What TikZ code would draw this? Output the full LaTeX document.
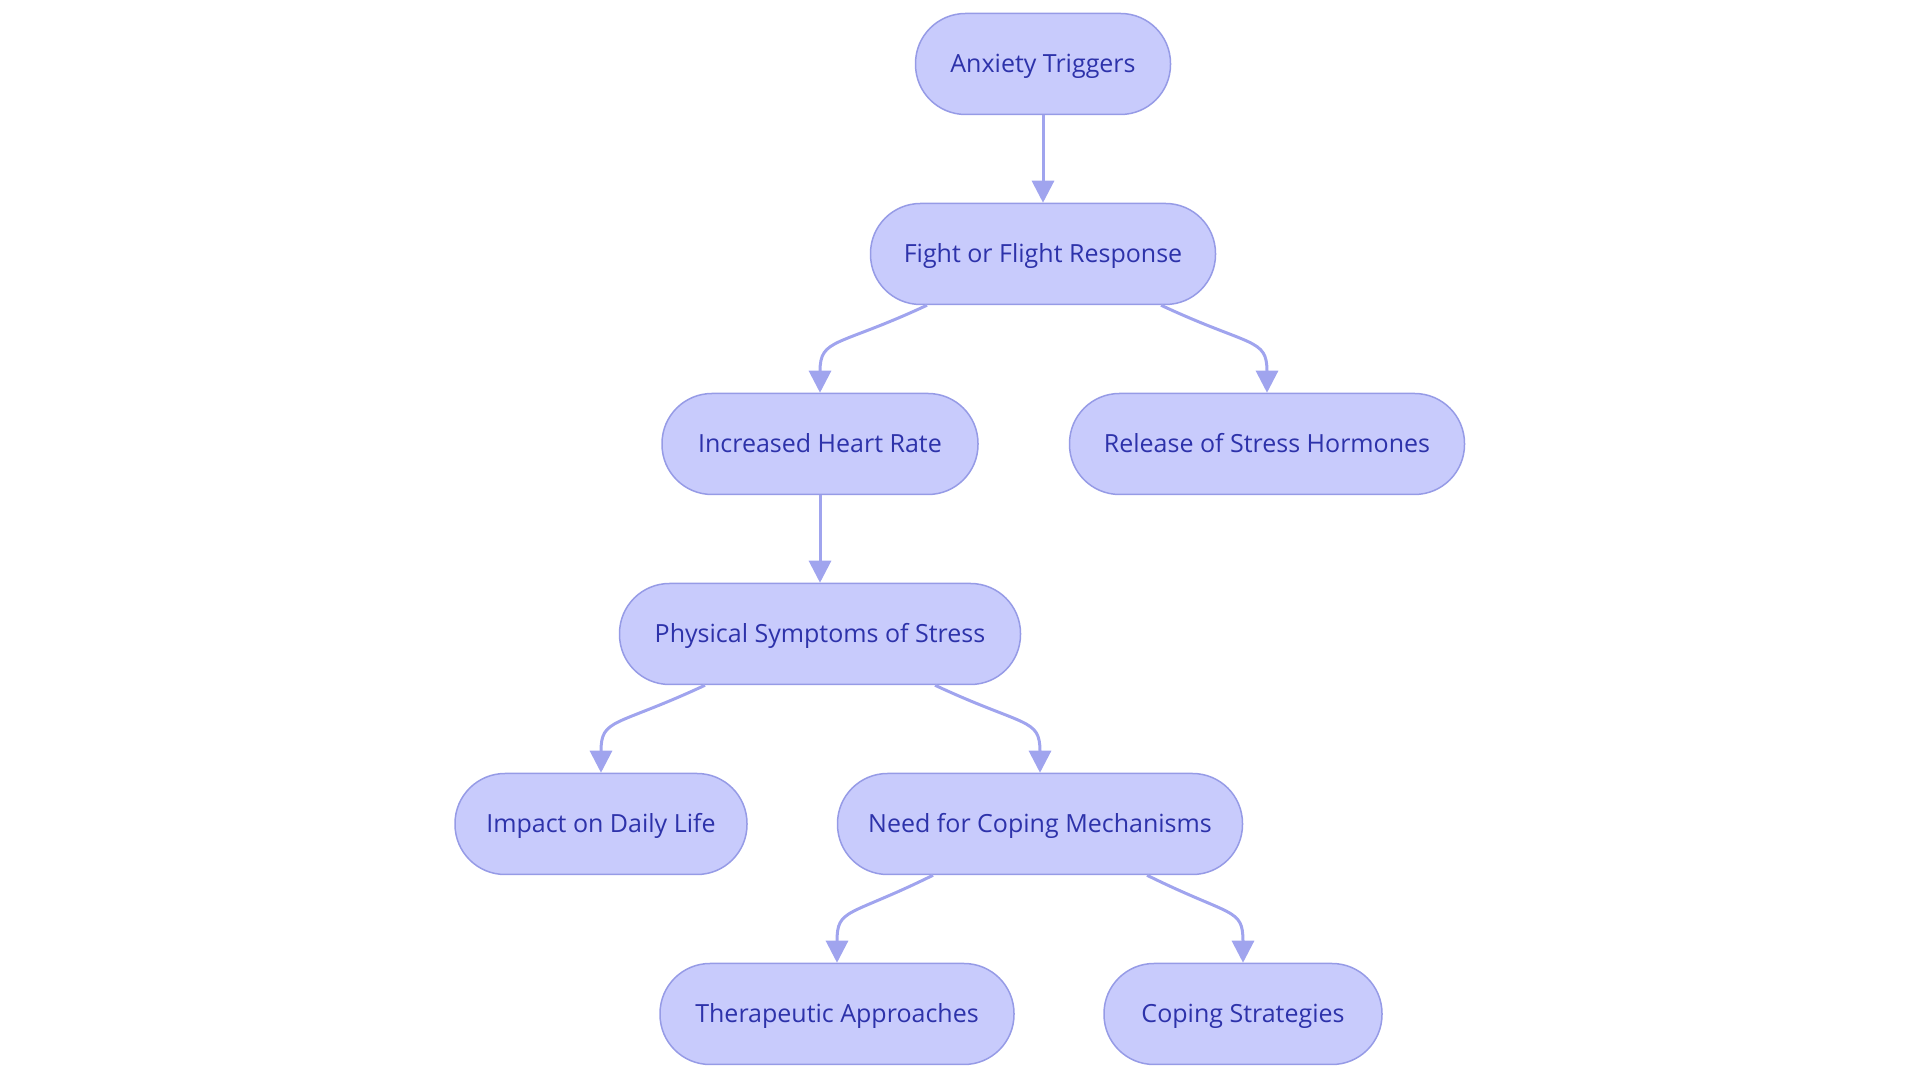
\documentclass[tikz,border=0pt]{standalone}
\usepackage{fontspec}
\setmainfont{Open Sans}
\usetikzlibrary{arrows.meta}
\definecolor{boxfill}{RGB}{200,203,252}
\definecolor{boxline}{RGB}{150,155,230}
\definecolor{boxtext}{RGB}{45,50,170}
\definecolor{linkline}{RGB}{160,164,238}
\tikzstyle{box} = [draw=boxline, fill=boxfill, text=boxtext, line width=1.5pt,
    rounded corners=50pt, minimum height=101pt, inner sep=0pt,
    text height=22pt, text depth=4pt,
    font=\fontsize{25}{30}\selectfont]
\tikzstyle{link} = [draw=linkline, line width=3pt,
    -{Triangle[length=22pt,width=22pt]}]

\begin{document}
\begin{tikzpicture}[x=1pt, y=1pt]
            \useasboundingbox (0, 0) rectangle (1920, 1083);

            \node[box, minimum width=255pt] (triggers) at (1043, 1019) {Anxiety Triggers};
            \node[box, minimum width=345pt] (fight) at (1043, 829) {Fight or Flight Response};
            \node[box, minimum width=316pt] (heart) at (820, 639) {Increased Heart Rate};
            \node[box, minimum width=395pt] (hormones) at (1267, 639) {Release of Stress Hormones};
            \node[box, minimum width=401pt] (symptoms) at (820, 449) {Physical Symptoms of Stress};
            \node[box, minimum width=292pt] (daily) at (601, 259) {Impact on Daily Life};
            \node[box, minimum width=405pt] (need) at (1040, 259) {Need for Coping Mechanisms};
            \node[box, minimum width=354pt] (therapy) at (837, 69) {Therapeutic Approaches};
            \node[box, minimum width=278pt] (strategies) at (1243, 69) {Coping Strategies};

            \draw[link] (triggers.south) -- (fight.north);
            \draw[link] ([xshift=-116pt]fight.south) .. controls +(-90, -42) and +(0, 55) .. (heart.north);
            \draw[link] ([xshift=118pt]fight.south) .. controls +(90, -42) and +(0, 55) .. (hormones.north);
            \draw[link] (heart.south) -- (symptoms.north);
            \draw[link] ([xshift=-115pt]symptoms.south) .. controls +(-90, -42) and +(0, 55) .. (daily.north);
            \draw[link] ([xshift=115pt]symptoms.south) .. controls +(90, -42) and +(0, 55) .. (need.north);
            \draw[link] ([xshift=-107pt]need.south) .. controls +(-85, -42) and +(0, 55) .. (therapy.north);
            \draw[link] ([xshift=107pt]need.south) .. controls +(85, -42) and +(0, 55) .. (strategies.north);
        \end{tikzpicture}
\end{document}
